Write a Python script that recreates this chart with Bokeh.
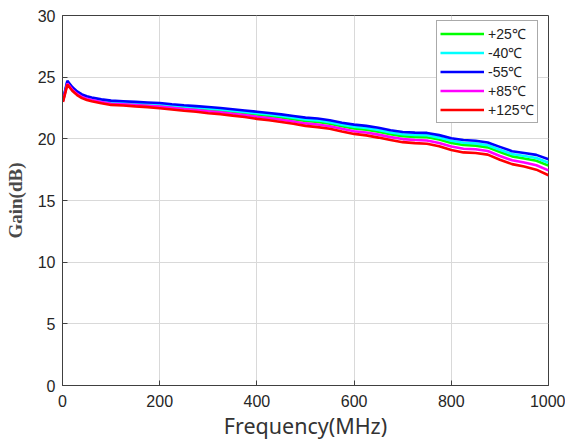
from bokeh.plotting import figure
from bokeh.models import Range1d, Legend, LegendItem, FixedTicker
from bokeh.embed import file_html
from bokeh.resources import INLINE

# Frequency sweep points (MHz)
freq = [1, 10, 20, 30, 40, 50, 60, 80, 100, 125, 150, 175, 200, 225, 250, 275,
        300, 325, 350, 375, 400, 425, 450, 475, 500, 525, 550, 575, 600, 625,
        650, 675, 700, 725, 750, 775, 800, 825, 850, 875, 900, 925, 950, 975, 1000]

# Gain (dB) at each temperature
gain_p25 = [23.09, 24.58, 24.08, 23.73, 23.48, 23.33, 23.23, 23.07, 22.96, 22.91,
            22.85, 22.80, 22.73, 22.63, 22.54, 22.47, 22.38, 22.30, 22.19, 22.09,
            21.97, 21.86, 21.74, 21.60, 21.45, 21.37, 21.23, 21.02, 20.85, 20.74,
            20.58, 20.38, 20.22, 20.16, 20.13, 19.94, 19.67, 19.50, 19.45, 19.31,
            18.93, 18.58, 18.41, 18.22, 17.83]
gain_m40 = [23.12, 24.63, 24.13, 23.78, 23.53, 23.38, 23.28, 23.13, 23.02, 22.97,
            22.92, 22.87, 22.81, 22.71, 22.62, 22.55, 22.47, 22.39, 22.29, 22.18,
            22.07, 21.97, 21.85, 21.71, 21.57, 21.50, 21.35, 21.15, 20.98, 20.88,
            20.72, 20.52, 20.37, 20.31, 20.29, 20.10, 19.84, 19.68, 19.63, 19.48,
            19.12, 18.77, 18.61, 18.44, 18.06]
gain_m55 = [23.15, 24.70, 24.20, 23.85, 23.60, 23.45, 23.35, 23.20, 23.10, 23.05,
            23.00, 22.95, 22.90, 22.80, 22.72, 22.65, 22.58, 22.50, 22.40, 22.30,
            22.20, 22.10, 21.98, 21.85, 21.72, 21.65, 21.50, 21.30, 21.15, 21.05,
            20.90, 20.70, 20.55, 20.50, 20.48, 20.30, 20.05, 19.90, 19.85, 19.70,
            19.35, 19.00, 18.85, 18.70, 18.35]
gain_p85 = [23.05, 24.49, 23.99, 23.64, 23.39, 23.24, 23.14, 22.98, 22.85, 22.80,
            22.74, 22.68, 22.61, 22.51, 22.41, 22.33, 22.23, 22.15, 22.04, 21.93,
            21.79, 21.68, 21.55, 21.41, 21.25, 21.16, 21.02, 20.81, 20.62, 20.51,
            20.34, 20.14, 19.98, 19.90, 19.86, 19.67, 19.38, 19.20, 19.15, 19.01,
            18.61, 18.26, 18.08, 17.86, 17.44]
gain_p125 = [23.00, 24.40, 23.90, 23.55, 23.30, 23.15, 23.05, 22.88, 22.75, 22.70,
             22.63, 22.57, 22.48, 22.38, 22.28, 22.20, 22.08, 22.00, 21.88, 21.77,
             21.62, 21.50, 21.37, 21.22, 21.05, 20.95, 20.82, 20.60, 20.40, 20.28,
             20.10, 19.90, 19.73, 19.65, 19.60, 19.40, 19.10, 18.90, 18.85, 18.72,
             18.30, 17.95, 17.75, 17.50, 17.05]

series_labels = ["+25\u2103", "-40\u2103", "-55\u2103", "+85\u2103", "+125\u2103"]
series_colors = ["#00ff00", "#00ffff", "#0000ff", "#ff00ff", "#ff0000"]
series_values = [gain_p25, gain_m40, gain_m55, gain_p85, gain_p125]

x_ticks = [0, 200, 400, 600, 800, 1000]
y_ticks = [0, 5, 10, 15, 20, 25, 30]

tick_font = "Liberation Sans"
axis_col = "#404040"

p = figure(width=565, height=442, output_backend="svg", toolbar_location=None,
           x_range=Range1d(0, 1000), y_range=Range1d(0, 30),
           min_border_left=62, min_border_right=17, min_border_top=15,
           min_border_bottom=57)
p.background_fill_color = "white"
p.border_fill_color = "white"
p.outline_line_color = axis_col
p.outline_line_width = 1

for ax, ticks in ((p.xaxis[0], x_ticks), (p.yaxis[0], y_ticks)):
    ax.ticker = FixedTicker(ticks=ticks)
    ax.major_tick_in = 5
    ax.major_tick_out = 0
    ax.minor_tick_in = 0
    ax.minor_tick_out = 0
    ax.axis_line_color = axis_col
    ax.major_tick_line_color = axis_col
    ax.major_label_text_font = tick_font
    ax.major_label_text_font_size = "16px"
    ax.major_label_text_color = "#262626"

p.xaxis.major_label_standoff = 9
p.yaxis.major_label_standoff = 7

p.xaxis.axis_label = "Frequency(MHz)"
p.xaxis.axis_label_text_font = "Noto Sans"
p.xaxis.axis_label_text_font_style = "normal"
p.xaxis.axis_label_text_font_size = "21.5px"
p.xaxis.axis_label_text_color = "#333333"
p.xaxis.axis_label_standoff = 1

p.yaxis.axis_label = "Gain(dB)"
p.yaxis.axis_label_text_font = "Liberation Serif"
p.yaxis.axis_label_text_font_style = "bold"
p.yaxis.axis_label_text_font_size = "19px"
p.yaxis.axis_label_text_color = "#4a4a4a"
p.yaxis.axis_label_standoff = 9

p.xgrid.ticker = FixedTicker(ticks=x_ticks)
p.ygrid.ticker = FixedTicker(ticks=y_ticks)
p.grid.grid_line_color = "#d9d9d9"
p.grid.grid_line_width = 1

items = []
for lab, col, vals in zip(series_labels, series_colors, series_values):
    r = p.line(freq, vals, line_color=col, line_width=2.6)
    items.append(LegendItem(label=lab, renderers=[r]))

legend = Legend(items=items, location=(374, 262))
legend.border_line_color = "#555555"
legend.border_line_width = 1
legend.background_fill_color = "white"
legend.background_fill_alpha = 1
legend.label_text_font = tick_font
legend.label_text_font_size = "14px"
legend.label_text_color = "#222222"
legend.glyph_width = 44
legend.glyph_height = 17
legend.label_height = 17
legend.label_standoff = 4
legend.spacing = 0
legend.padding = 3
legend.margin = 0
p.add_layout(legend, "center")

open("out.html", "w").write(file_html(p, INLINE))
